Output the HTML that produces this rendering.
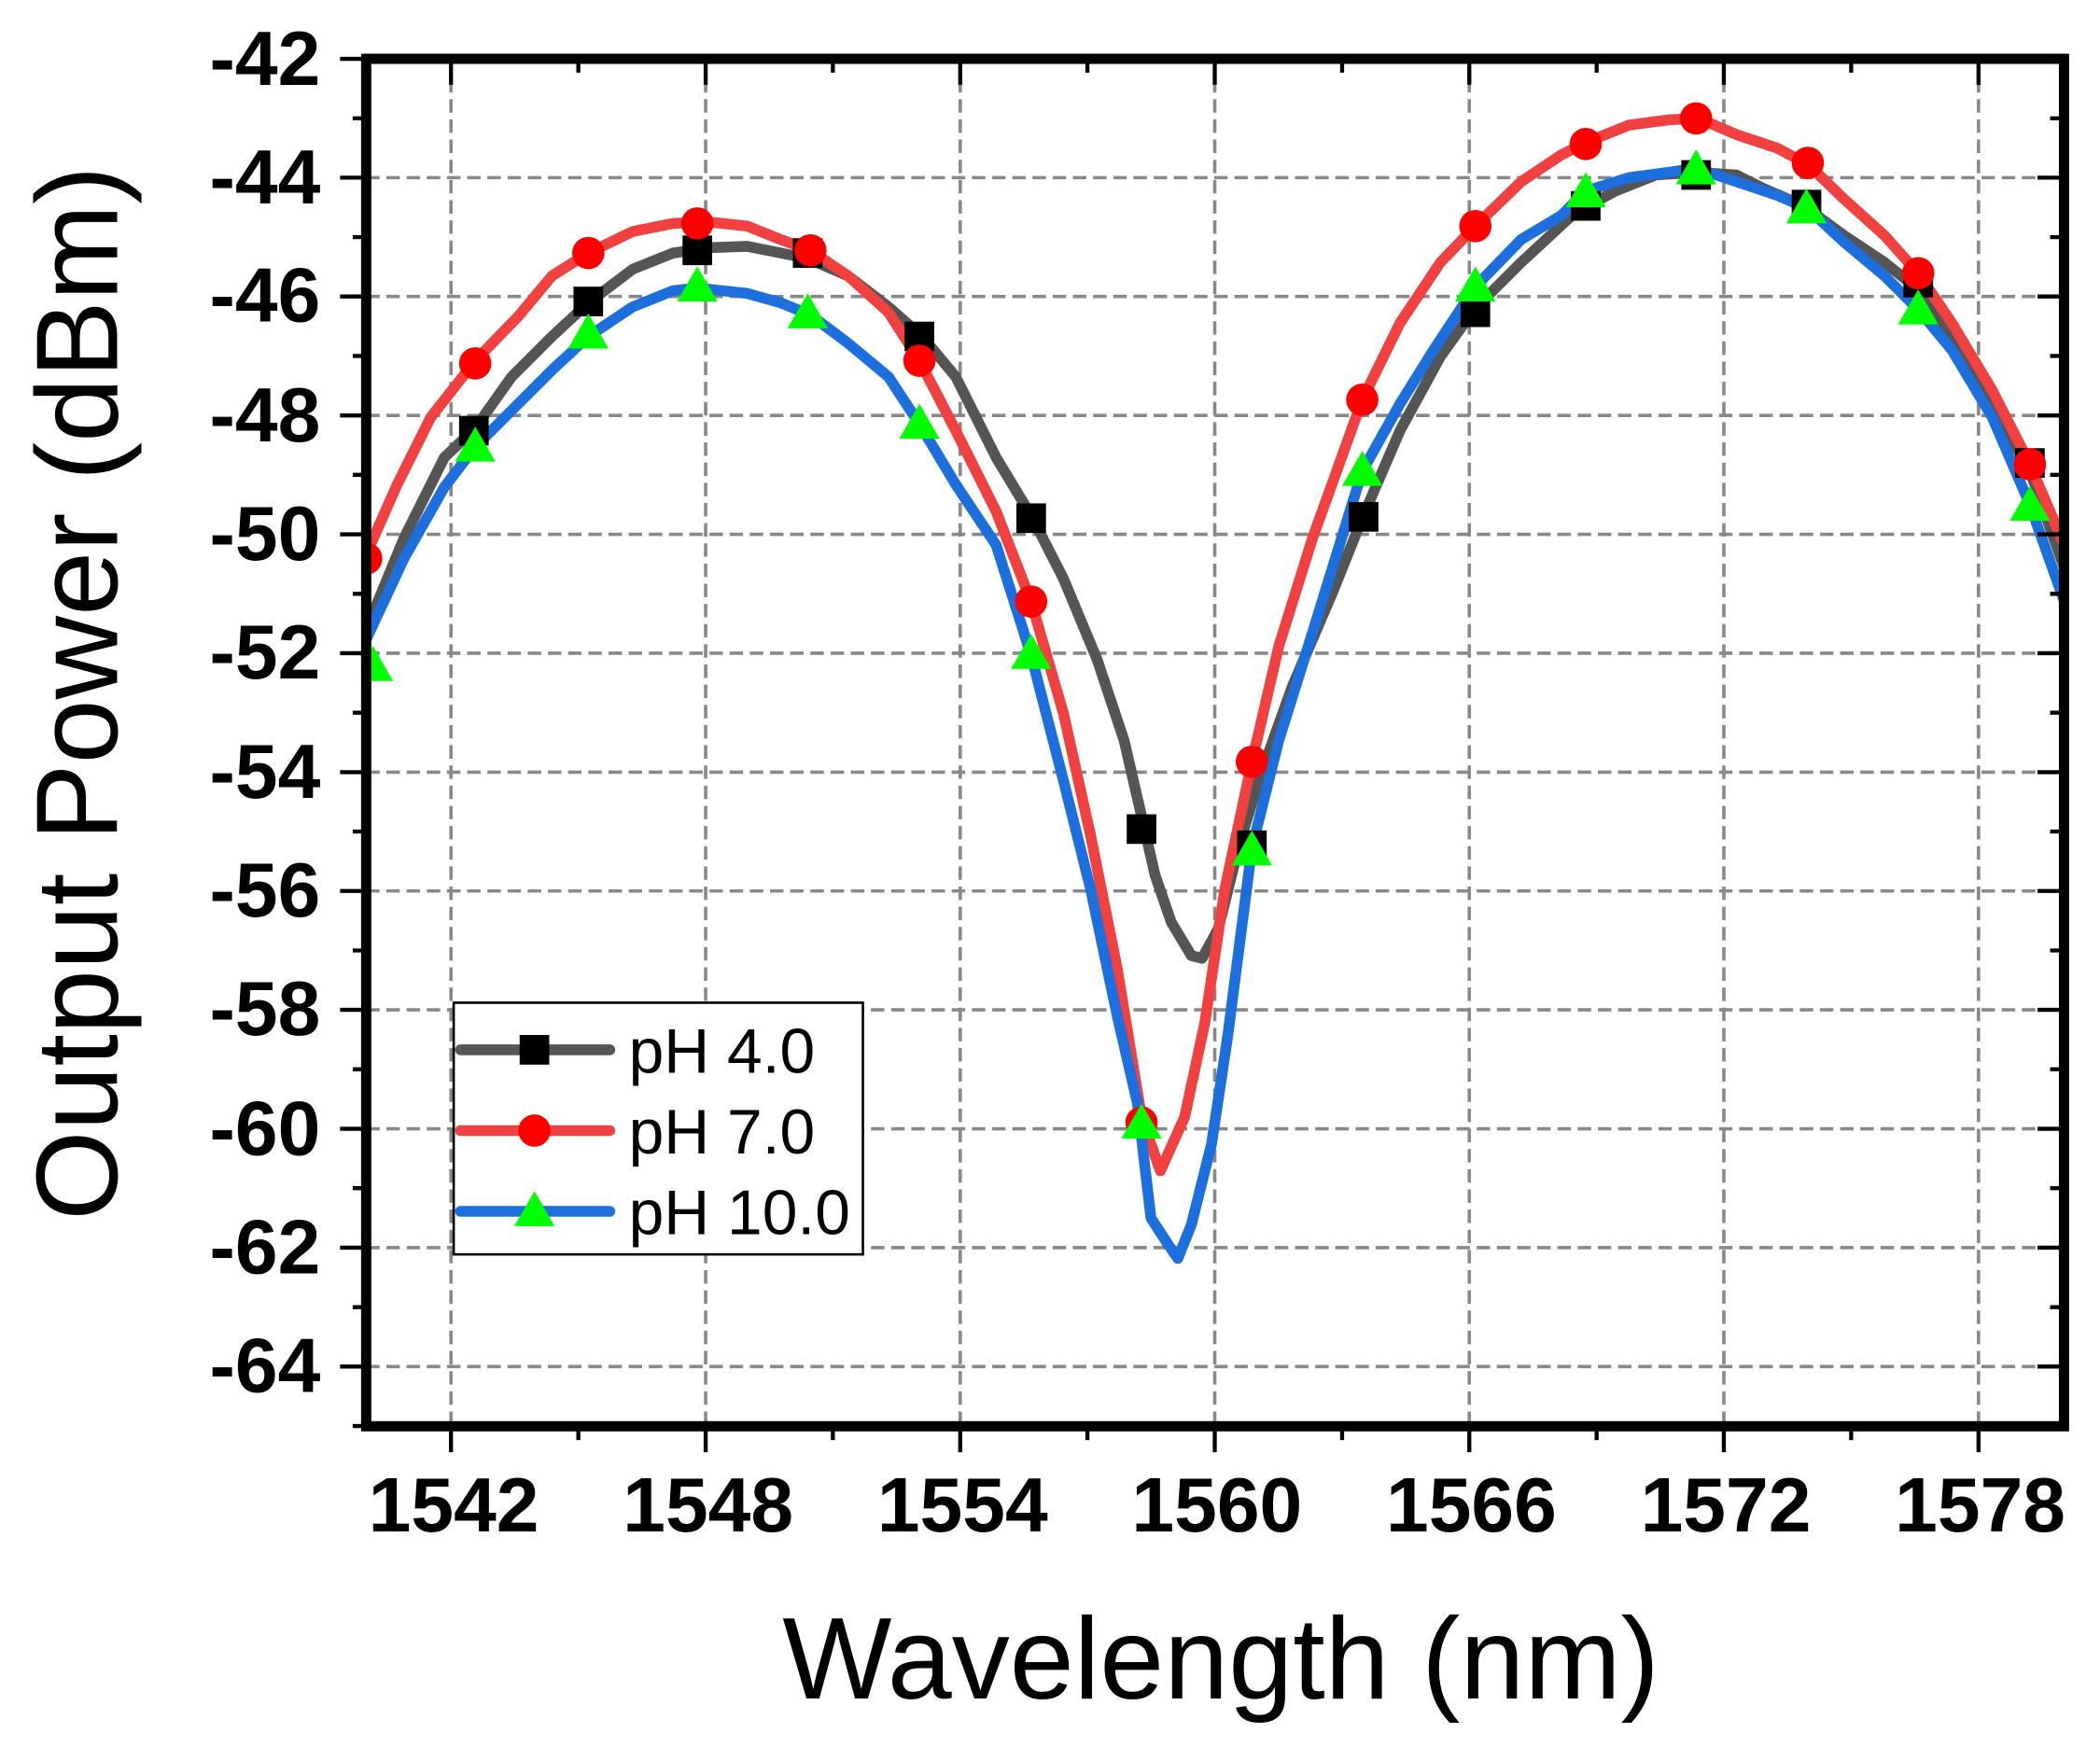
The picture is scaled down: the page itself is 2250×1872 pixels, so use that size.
<!DOCTYPE html>
<html><head><meta charset="utf-8"><style>html,body{margin:0;padding:0;background:#fff}svg{display:block}</style></head>
<body>
<svg xmlns="http://www.w3.org/2000/svg" width="2250" height="1872" viewBox="0 0 1560 1298" font-family="Liberation Sans, Arial, sans-serif">
<defs><clipPath id="c"><rect x="272" y="43.7" width="1261.3" height="1016"/></clipPath></defs>
<rect width="1560" height="1298" fill="#fff"/>
<g stroke="#888" stroke-width="2.5" stroke-dasharray="10 5" fill="none">
<path d="M272 132H1533M272 220.3H1533M272 308.7H1533M272 397H1533M272 485.3H1533M272 573.7H1533M272 662H1533M272 750.3H1533M272 838.7H1533M272 927H1533M272 1015.3H1533"/>
<path d="M335 43.7V1059.7M524.2 43.7V1059.7M713.3 43.7V1059.7M902.4 43.7V1059.7M1091.5 43.7V1059.7M1280.6 43.7V1059.7M1469.8 43.7V1059.7"/>
</g>
<g clip-path="url(#c)" fill="none" stroke-width="8" stroke-linejoin="round" stroke-linecap="round">
<polyline stroke="#555" points="272,468 300,400 330,340 353,318 380,280 410,250 437,225 470,200 500,188 527,184 555,183 580,188 600,192 630,205 660,228 685,250 710,280 740,340 766,383 790,430 815,490 835,550 850,615 858,650 870,685 885,710 893,712 905,690 920,630 935,580 960,510 990,440 1012,385 1040,320 1070,265 1095,230 1130,195 1170,158 1200,142 1230,130 1260,128 1290,130 1310,140 1340,153 1370,175 1400,195 1425,215 1450,250 1480,300 1508,350 1540,440"/>
<polyline stroke="#f04040" points="272,412 295,360 320,310 353,268 385,235 410,205 437,188 470,172 500,166 527,165 555,168 580,178 602,186 630,205 660,232 683,268 710,320 740,380 766,447 790,530 810,620 830,720 848,830 862,870 880,830 895,760 910,660 930,566 950,480 975,400 1012,297 1040,240 1070,195 1096,168 1130,135 1160,115 1180,105 1210,93 1240,89 1262,88 1290,100 1320,110 1343,122 1370,148 1400,175 1425,203 1450,240 1480,290 1508,345 1540,420"/>
<polyline stroke="#1c6fdc" points="272,475 300,415 330,362 353,332 385,300 410,275 437,250 470,228 500,216 518,214 555,218 580,225 602,234 630,255 660,280 683,315 710,360 740,405 766,487 790,580 810,660 830,755 845,820 855,905 868,925 875,935 885,910 900,850 912,770 930,630 950,550 975,470 1012,350 1040,300 1065,260 1096,213 1130,178 1160,160 1178,142 1210,132 1240,128 1260,125 1290,135 1320,145 1343,155 1370,180 1400,205 1425,230 1450,260 1480,310 1508,375 1540,465"/>
<g fill="#000" stroke="none">
<rect x="341" y="309" width="22" height="22"/><rect x="426" y="213" width="22" height="22"/><rect x="507" y="175" width="22" height="22"/><rect x="589" y="177" width="22" height="22"/><rect x="672" y="239" width="22" height="22"/><rect x="755" y="374" width="22" height="22"/><rect x="837" y="605" width="22" height="22"/><rect x="919" y="617" width="22" height="22"/><rect x="1002" y="373" width="22" height="22"/><rect x="1085" y="221" width="22" height="22"/><rect x="1167" y="142" width="22" height="22"/><rect x="1249" y="119" width="22" height="22"/><rect x="1331" y="141" width="22" height="22"/><rect x="1414" y="199" width="22" height="22"/><rect x="1497" y="333" width="22" height="22"/>
</g>
<g fill="#ff0000" stroke="none">
<circle cx="272" cy="415" r="12"/><circle cx="353" cy="270" r="12"/><circle cx="437" cy="188" r="12"/><circle cx="518" cy="166" r="12"/><circle cx="602" cy="186" r="12"/><circle cx="683" cy="268" r="12"/><circle cx="766" cy="447" r="12"/><circle cx="848" cy="834" r="12"/><circle cx="930" cy="566" r="12"/><circle cx="1012" cy="297" r="12"/><circle cx="1096" cy="168" r="12"/><circle cx="1178" cy="107" r="12"/><circle cx="1260" cy="88" r="12"/><circle cx="1343" cy="121" r="12"/><circle cx="1425" cy="203" r="12"/><circle cx="1508" cy="345" r="12"/>
</g>
<g fill="#00ff00" stroke="none">
<path d="M277 480l15 26h-30z"/><path d="M353 317l15 26h-30z"/><path d="M437 233l15 26h-30z"/><path d="M518 198l15 26h-30z"/><path d="M600 218l15 26h-30z"/><path d="M683 300l15 26h-30z"/><path d="M766 471l15 26h-30z"/><path d="M848 820l15 26h-30z"/><path d="M930 617l15 26h-30z"/><path d="M1012 335l15 26h-30z"/><path d="M1096 198l15 26h-30z"/><path d="M1178 128l15 26h-30z"/><path d="M1260 111l15 26h-30z"/><path d="M1342 140l15 26h-30z"/><path d="M1425 215l15 26h-30z"/><path d="M1508 361l15 26h-30z"/>
</g>
</g>
<g stroke="#000" stroke-width="3" fill="none">
<path d="M252.6 43.7H272M252.6 132H272M252.6 220.3H272M252.6 308.7H272M252.6 397H272M252.6 485.3H272M252.6 573.7H272M252.6 662H272M252.6 750.3H272M252.6 838.7H272M252.6 927H272M252.6 1015.3H272"/>
<path d="M262 87.9H272M262 176.2H272M262 264.5H272M262 352.8H272M262 441.2H272M262 529.5H272M262 617.8H272M262 706.2H272M262 794.5H272M262 882.8H272M262 971.2H272M262 1059.5H272"/>
<path d="M1533 132H1513.6M1533 220.3H1513.6M1533 308.7H1513.6M1533 397H1513.6M1533 485.3H1513.6M1533 573.7H1513.6M1533 662H1513.6M1533 750.3H1513.6M1533 838.7H1513.6M1533 927H1513.6M1533 1015.3H1513.6"/>
<path d="M1533 87.9H1523M1533 176.2H1523M1533 264.5H1523M1533 352.8H1523M1533 441.2H1523M1533 529.5H1523M1533 617.8H1523M1533 706.2H1523M1533 794.5H1523M1533 882.8H1523M1533 971.2H1523"/>
<path d="M335 1059.7V1079M524.2 1059.7V1079M713.3 1059.7V1079M902.4 1059.7V1079M1091.5 1059.7V1079M1280.6 1059.7V1079M1469.8 1059.7V1079"/>
<path d="M429.6 1059.7V1070M618.7 1059.7V1070M807.8 1059.7V1070M997 1059.7V1070M1186.1 1059.7V1070M1375.2 1059.7V1070"/>
<path d="M335 43.7V63M524.2 43.7V63M713.3 43.7V63M902.4 43.7V63M1091.5 43.7V63M1280.6 43.7V63M1469.8 43.7V63"/>
<path d="M429.6 43.7V54M618.7 43.7V54M807.8 43.7V54M997 43.7V54M1186.1 43.7V54M1375.2 43.7V54"/>
</g>
<rect x="272" y="43.7" width="1261.3" height="1016" fill="none" stroke="#000" stroke-width="7.6"/>
<g font-size="57" font-weight="bold" text-anchor="end" fill="#000">
<text x="238" y="63">-42</text><text x="238" y="151">-44</text><text x="238" y="239">-46</text><text x="238" y="328">-48</text><text x="238" y="416">-50</text><text x="238" y="504">-52</text><text x="238" y="593">-54</text><text x="238" y="681">-56</text><text x="238" y="769">-58</text><text x="238" y="858">-60</text><text x="238" y="946">-62</text><text x="238" y="1034">-64</text>
</g>
<g font-size="57" font-weight="bold" text-anchor="middle" fill="#000">
<text x="337" y="1138">1542</text><text x="526" y="1138">1548</text><text x="715" y="1138">1554</text><text x="904" y="1138">1560</text><text x="1093" y="1138">1566</text><text x="1282" y="1138">1572</text><text x="1471" y="1138">1578</text>
</g>
<text x="907" y="1262" font-size="86" text-anchor="middle" fill="#000">Wavelength (nm)</text>
<text transform="translate(87,515) rotate(-90)" font-size="86" text-anchor="middle" fill="#000">Output Power (dBm)</text>
<rect x="337" y="745" width="304" height="187" fill="#fff" stroke="#000" stroke-width="1.8"/>
<g stroke-width="8" stroke-linecap="round">
<line x1="342" y1="780" x2="453" y2="780" stroke="#555"/>
<line x1="342" y1="840" x2="453" y2="840" stroke="#f04040"/>
<line x1="342" y1="900" x2="453" y2="900" stroke="#1c6fdc"/>
</g>
<rect x="386" y="769" width="22" height="22" fill="#000"/>
<circle cx="397" cy="840" r="12" fill="#ff0000"/>
<path d="M397 885l15 26h-30z" fill="#00ff00"/>
<g font-size="47" fill="#000">
<text x="467" y="797">pH 4.0</text><text x="467" y="857">pH 7.0</text><text x="467" y="917">pH 10.0</text>
</g>
</svg>
</body></html>
